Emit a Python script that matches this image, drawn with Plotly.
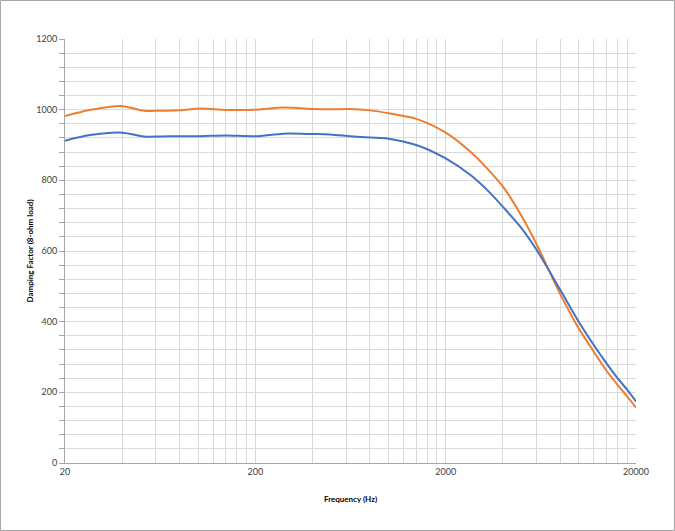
import numpy as np
import plotly.graph_objects as go

# Frequency points (Hz)
freq = [20, 27, 40, 52, 64, 81, 103, 140, 200, 281, 405, 494, 632, 802,
        1000, 1400, 2000, 2700, 3300, 4000, 5000, 6000, 8000,
        10000, 12000, 14000, 16000, 18000, 20000]

# Damping factor, two channels
orange_vals = [982, 999, 1010, 997, 997, 998, 1003, 999, 1000, 1006,
               1002, 1001, 1002, 998, 990, 974, 935, 881, 834, 782, 700,
               620, 478, 381, 315, 261, 221, 188, 157]
blue_vals = [912, 928, 935, 924, 924, 925, 925, 927, 925, 932, 931, 930,
             925, 921, 918, 900, 862, 815, 773, 725, 665, 604, 490,
             400, 334, 282, 240, 207, 174]

# Log grid like Excel: 20, 40, 60 ... per decade
grid_vals = []
grid_text = []
for n in range(3):
    for k in [1, 2, 3, 4, 5, 6, 7, 8, 9]:
        grid_vals.append(20 * k * 10 ** n)
        grid_text.append(str(20 * 10 ** n) if k == 1 else '')
grid_vals.append(20000)
grid_text.append('20000')

FONT = 'Lato'
GRID = '#d9d9d9'
AXIS = '#a6a6a6'

fig = go.Figure()

fig.add_trace(go.Scatter(
    x=freq, y=orange_vals, mode='lines', name='Orange',
    line=dict(color='#ED7D31', width=2, shape='spline', smoothing=0.8),
))
fig.add_trace(go.Scatter(
    x=freq, y=blue_vals, mode='lines', name='Blue',
    line=dict(color='#4472C4', width=2, shape='spline', smoothing=0.8),
))

W, H = 675, 531
L, R, T, B = 65, 39, 39, 68
pw, ph = W - L - R, H - T - B

fig.update_layout(
    width=W, height=H,
    margin=dict(l=L, r=R, t=T, b=B),
    paper_bgcolor='white',
    plot_bgcolor='white',
    showlegend=False,
    font=dict(family=FONT, size=9, color='#404040'),
    # thin frame round the whole chart
    shapes=[dict(
        type='rect', xref='paper', yref='paper',
        x0=(0.5 - L) / pw, x1=(W - 0.5 - L) / pw,
        y0=(T + ph - (H - 0.5)) / ph, y1=(T + ph - 0.5) / ph,
        line=dict(color=AXIS, width=1),
    )],
)

fig.update_xaxes(
    type='log',
    range=[np.log10(20), np.log10(20000)],
    tickmode='array', tickvals=grid_vals, ticktext=grid_text,
    showgrid=True, gridcolor=GRID, gridwidth=1,
    showline=True, linecolor=AXIS, linewidth=1,
    ticks='', zeroline=False,
    tickfont=dict(size=9, color='#404040'),
    title=dict(text='<b>Frequency (Hz)</b>', font=dict(size=8, color='#000000'), standoff=20),
)

fig.update_yaxes(
    range=[0, 1200], dtick=200, tick0=0,
    showgrid=True, gridcolor=GRID, gridwidth=1,
    showline=True, linecolor=AXIS, linewidth=1,
    ticks='outside', ticklen=5, tickcolor=AXIS,
    minor=dict(dtick=40, showgrid=True, gridcolor=GRID, ticks='outside',
               ticklen=5, tickcolor=AXIS),
    zeroline=False,
    tickfont=dict(size=9, color='#404040'),
    title=dict(text='<b>Damping Factor (8-ohm load)</b>', font=dict(size=8, color='#000000'), standoff=1),
)

fig.write_html("out.html", config={'displayModeBar': False},
               post_script="document.body.style.margin = '0';")
